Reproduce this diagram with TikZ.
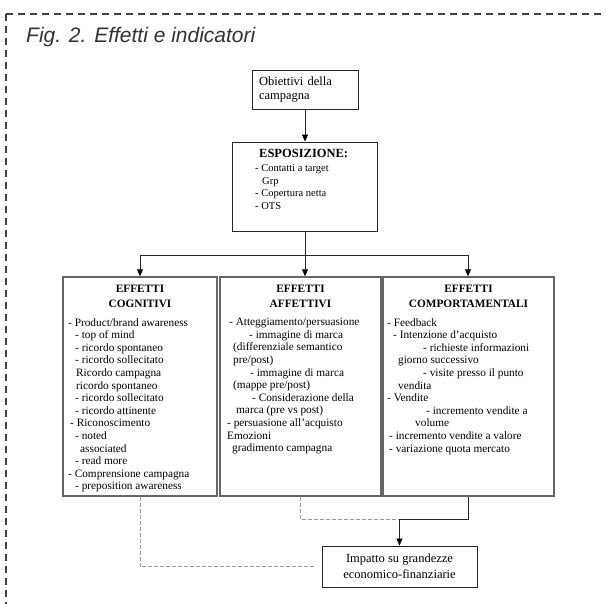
\documentclass[tikz,border=0pt]{standalone}
\usepackage{fontspec}
\setmainfont{Liberation Serif}
\newfontfamily\titlefont{Liberation Sans}
\usetikzlibrary{arrows.meta}
\tikzset{
  frame/.style={draw=black!75, line width=1.6pt, dash pattern=on 7pt off 5pt},
  smallbox/.style={draw=black!85, line width=0.9pt, inner sep=0pt, fill=white},
  bigbox/.style={draw=black!60, line width=1.4pt, inner sep=0pt, fill=white},
  body/.style={font=\fontsize{11.3}{12.6}\selectfont, align=left, inner sep=0pt, anchor=north west},
  head/.style={font=\bfseries\fontsize{11.3}{15}\selectfont, align=center, inner sep=0pt, anchor=north},
  conn/.style={line width=0.8pt, draw=black!85},
  arr/.style={conn, -{Triangle[length=7pt,width=6pt,black]}},
  dline/.style={draw=black!40, line width=0.9pt, dash pattern=on 4pt off 2pt},
}
\begin{document}
\begin{tikzpicture}[x=1pt,y=-1pt]
\useasboundingbox[fill=white] (0,0) rectangle (606,604);
% outer dashed frame
\coordinate (fc) at (6,14);
\coordinate (fb) at (6,606);
\coordinate (fr) at (608,14);
\draw[frame] (fc) -- (fb);
\draw[frame] (fc) -- (fr);
\node[anchor=base west, font=\titlefont\itshape\fontsize{21}{24}\selectfont, text=black!80, inner sep=0pt] (title) at (26,43) {Fig. 2. Effetti e indicatori};

% top boxes
\node[smallbox, minimum width=106pt, minimum height=39pt, text width=92pt, align=left, inner xsep=7pt,
      font=\fontsize{12.5}{14}\selectfont] (obj) at (305,89.5) {Obiettivi della\\campagna};
\node[smallbox, minimum width=145pt, minimum height=89pt] (esp) at (304.5,186.5) {};
\node[anchor=base west, inner sep=0pt, font=\bfseries\fontsize{12.5}{14}\selectfont] (esph) at (259,158) {ESPOSIZIONE:};
\node[body, font=\fontsize{10.5}{12.5}\selectfont] (espt) at (255,164.5) {- Contatti a target\\\hspace*{7pt}Grp\\- Copertura netta\\- OTS};

% three effect boxes
\node[bigbox, minimum width=154pt, minimum height=219pt] (cog) at (140,386.5) {};
\node[bigbox, minimum width=161pt, minimum height=219pt] (aff) at (300.5,386.5) {};
\node[bigbox, minimum width=171pt, minimum height=219pt] (comp) at (468.5,386.5) {};

\node[head] (cogh) at (140,284.5) {EFFETTI\\COGNITIVI};
\node[head] (affh) at (300.5,284.5) {EFFETTI\\AFFETTIVI};
\node[head] (comph) at (468.5,284.5) {EFFETTI\\COMPORTAMENTALI};

\node[body] (cogt) at (68,318) {- Product/brand awareness\\
\hspace*{7pt}- top of mind\\
\hspace*{7pt}- ricordo spontaneo\\
\hspace*{7pt}- ricordo sollecitato\\
\hspace*{8pt}Ricordo campagna\\
\hspace*{8pt}ricordo spontaneo\\
\hspace*{7pt}- ricordo sollecitato\\
\hspace*{7pt}- ricordo attinente\\
\hspace*{2pt}- Riconoscimento\\
\hspace*{7pt}- noted\\
\hspace*{12pt}associated\\
\hspace*{7pt}- read more\\
- Comprensione campagna\\
\hspace*{7pt}- preposition awareness};

\node[body] (afft) at (227,318) {\hspace*{2pt}- Atteggiamento/persuasione\\
\hspace*{22pt}- immagine di marca\\
\hspace*{6pt}(differenziale semantico\\
\hspace*{6pt}pre/post)\\
\hspace*{23pt}- immagine di marca\\
\hspace*{6pt}(mappe pre/post)\\
\hspace*{25pt}- Considerazione della\\
\hspace*{9pt}marca (pre vs post)\\
- persuasione all'acquisto\\
Emozioni\\
\hspace*{5pt}gradimento campagna};

\node[body] (compt) at (387,318) {- Feedback\\
\hspace*{6pt}- Intenzione d'acquisto\\
\hspace*{36pt}- richieste informazioni\\
\hspace*{11pt}giorno successivo\\
\hspace*{36pt}- visite presso il punto\\
\hspace*{11pt}vendita\\
- Vendite\\
\hspace*{39pt}- incremento vendite a\\
\hspace*{28pt}volume\\
\hspace*{2pt}- incremento vendite a valore\\
\hspace*{2pt}- variazione quota mercato};

% bottom box
\node[smallbox, minimum width=155pt, minimum height=41pt, align=center,
      font=\fontsize{12.5}{16}\selectfont] (imp) at (399.5,566.5) {Impatto su grandezze\\economico-finanziarie};

% connectors top
\coordinate (hl) at (140,255);
\coordinate (hj) at (305,255);
\coordinate (hr) at (468,255);
\draw[arr] (obj.south) -- (obj.south |- esp.north);
\draw[conn] (esp.south -| hj) -- (hj);
\draw[conn] (hl) -- (hr);
\draw[arr] (hl) -- (hl |- cog.north);
\draw[arr] (hj) -- (hj |- aff.north);
\draw[arr] (hr) -- (hr |- comp.north);

% connectors bottom
\coordinate (mj) at (399.5,519);
\draw[dline] (cog.south) -- (cog.south |- imp.west) -- ([xshift=-6pt]imp.west);
\draw[-{Triangle[length=7pt,width=6pt,black]}, draw=none] ([xshift=-7pt]imp.west) -- (imp.west);
\draw[dline] (aff.south) |- (mj);
\draw[conn] (comp.south) |- (mj);
\draw[arr] (mj) -- (imp.north);
\end{tikzpicture}
\end{document}
